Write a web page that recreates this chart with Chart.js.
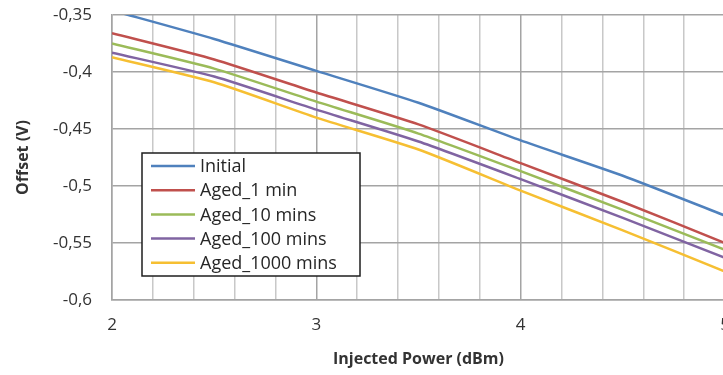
<!DOCTYPE html>
<html>
<head>
<meta charset="utf-8">
<script src="https://cdn.jsdelivr.net/npm/chart.js@4.4.0/dist/chart.umd.min.js"></script>
<style>
  html, body { margin: 0; padding: 0; background: #fff; overflow: hidden; }
  #wrap { width: 740px; height: 375px; }
</style>
</head>
<body>
<div id="wrap"><canvas id="mycanvas" width="740" height="375"></canvas></div>
<script>
// injected power (dBm) and offset readings (V)
var power = [2, 2.5, 3, 3.5, 4, 4.5, 5];
var initial = [-0.346, -0.371, -0.399, -0.427, -0.460, -0.491, -0.526];
var aged1 = [-0.366, -0.389, -0.418, -0.446, -0.480, -0.514, -0.550];
var aged10 = [-0.375, -0.397, -0.426, -0.454, -0.487, -0.521, -0.556];
var aged100 = [-0.383, -0.404, -0.433, -0.461, -0.494, -0.528, -0.563];
var aged1000 = [-0.387, -0.409, -0.440, -0.468, -0.504, -0.539, -0.575];

var seriesNames = ['Initial', 'Aged_1 min', 'Aged_10 mins', 'Aged_100 mins', 'Aged_1000 mins'];
var seriesColors = ['#4f81bd', '#c0504d', '#9bbb59', '#8064a2', '#f6bf32'];

var xGrid = [2, 2.2, 2.4, 2.6, 2.8, 3, 3.2, 3.4, 3.6, 3.8, 4, 4.2, 4.4, 4.6, 4.8, 5];
var xLabels = [2, 3, 4, 5];
var yTicks = [-0.6, -0.55, -0.5, -0.45, -0.4, -0.35];

var FONT = "'Open Sans', 'Noto Sans', sans-serif";

function isLabelled(v) {
  for (var i = 0; i < xLabels.length; i++) {
    if (Math.abs(xLabels[i] - v) < 1e-6) return true;
  }
  return false;
}

function points(values) {
  return power.map(function(p, i) { return { x: p, y: values[i] }; });
}

var allSeries = [initial, aged1, aged10, aged100, aged1000];
var datasets = allSeries.map(function(vals, i) {
  return {
    label: seriesNames[i],
    data: points(vals),
    borderColor: seriesColors[i],
    backgroundColor: seriesColors[i],
    borderWidth: 2.5,
    pointRadius: 0,
    tension: 0.2,
    clip: 0
  };
});

// legend box drawn inside the plot, like the original
var boxLegend = {
  id: 'boxLegend',
  afterDraw: function(chart) {
    var ctx = chart.ctx, a = chart.chartArea;
    var x = a.left + 30, y = a.top + 138, w = 218, h = 123;
    ctx.save();
    ctx.fillStyle = '#fff';
    ctx.fillRect(x, y, w, h);
    ctx.strokeStyle = '#1e1e1e';
    ctx.lineWidth = 1.5;
    ctx.strokeRect(x, y, w, h);
    ctx.font = '18px ' + FONT;
    ctx.textBaseline = 'middle';
    chart.data.datasets.forEach(function(ds, i) {
      var ly = y + 13 + i * 24.2;
      ctx.strokeStyle = ds.borderColor;
      ctx.lineWidth = 2.5;
      ctx.beginPath();
      ctx.moveTo(x + 9, ly);
      ctx.lineTo(x + 53, ly);
      ctx.stroke();
      ctx.fillStyle = '#262626';
      ctx.fillText(ds.label, x + 58, ly + 1);
    });
    ctx.restore();
  }
};

var ctx = document.getElementById('mycanvas');

var chart = new Chart(ctx, {
  type: 'line',
  data: { datasets: datasets },
  plugins: [boxLegend],
  options: {
    responsive: false,
    animation: false,
    layout: { padding: { top: 15, right: 15, left: 0, bottom: 0 } },
    plugins: {
      legend: { display: false },
      tooltip: { enabled: false }
    },
    scales: {
      x: {
        type: 'linear',
        min: 2,
        max: 5,
        afterBuildTicks: function(s) { s.ticks = xGrid.map(function(v) { return { value: v }; }); },
        afterFit: function(s) { s.height = 75; s.paddingLeft = 0; s.paddingRight = 0; },
        grid: {
          drawTicks: false,
          lineWidth: 1.5,
          color: function(c) { return isLabelled(c.tick.value) ? '#a4a4a4' : '#c8c8c8'; }
        },
        border: { color: '#a4a4a4', width: 1.5 },
        ticks: {
          autoSkip: false,
          maxRotation: 0,
          padding: 15,
          color: '#333',
          font: { family: FONT, size: 17 },
          callback: function(v) { return isLabelled(v) ? String(Math.round(v)) : ''; }
        },
        title: {
          display: true,
          text: 'Injected Power (dBm)',
          color: '#333',
          font: { family: FONT, size: 16, weight: 'bold' },
          padding: { top: 0, bottom: 6 }
        }
      },
      y: {
        min: -0.6,
        max: -0.35,
        afterBuildTicks: function(s) { s.ticks = yTicks.map(function(v) { return { value: v }; }); },
        afterFit: function(s) { s.width = 112; s.paddingTop = 0; s.paddingBottom = 0; },
        grid: { drawTicks: false, lineWidth: 1.5, color: '#a4a4a4' },
        border: { color: '#a4a4a4', width: 1.5 },
        ticks: {
          padding: 20,
          color: '#333',
          font: { family: FONT, size: 17 },
          callback: function(v) { return String(Math.round(v * 100) / 100).replace('.', ','); }
        },
        title: {
          display: true,
          text: 'Offset (V)',
          color: '#333',
          font: { family: FONT, size: 16, weight: 'bold' },
          padding: { top: 14, bottom: 0 }
        }
      }
    }
  }
});
</script>
</body>
</html>
